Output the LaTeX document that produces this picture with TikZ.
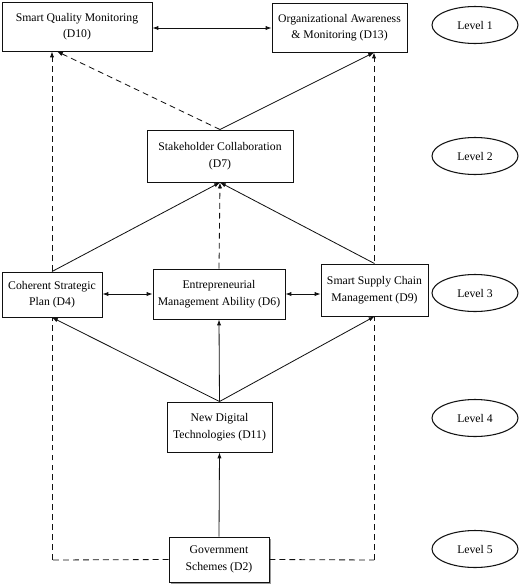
\documentclass[tikz,border=0pt]{standalone}
\usepackage{fontspec}
\setmainfont{Liberation Serif}
\usepackage{tikz}
\usetikzlibrary{arrows.meta,positioning,shapes.geometric,shadows}
\definecolor{ink}{HTML}{111111}
\definecolor{shadowgray}{HTML}{9A9A9A}
\tikzset{
  dimbox/.style={draw=ink,fill=white,line width=0.8pt,
                 align=center,inner sep=2pt,
                 font=\fontsize{10}{14}\selectfont},
  levelnode/.style={draw=ink,fill=white,ellipse,line width=0.9pt,
                    minimum width=2.58cm,minimum height=1.11cm,
                    inner sep=0pt,font=\fontsize{10}{12}\selectfont},
  solidarr/.style={-{Latex[length=5pt,width=3.6pt]},line width=0.7pt,color=ink},
  biarr/.style={{Latex[length=5pt,width=3.6pt]}-{Latex[length=5pt,width=3.6pt]},line width=0.7pt,color=ink},
  dasharr/.style={-{Latex[length=5pt,width=3.6pt]},line width=0.7pt,color=ink,
                  dash pattern=on 5pt off 3.5pt},
  dashline/.style={line width=0.7pt,color=ink,dash pattern=on 5pt off 3.5pt}
}

\begin{document}
\begin{tikzpicture}[x=0.03cm,y=-0.03cm,>=Latex]
  \useasboundingbox (0,0) rectangle (520,586);
  \coordinate (lft) at (52,560);
  \coordinate (rgt) at (374,560);
  \node[dimbox,minimum width=4.5cm,minimum height=1.47cm] (D10) at (77,26.5)
    {Smart Quality Monitoring\\(D10)};
  \node[dimbox,minimum width=4.05cm,minimum height=1.47cm] (D13) at (339.5,27.5)
    {Organizational Awareness\\\& Monitoring (D13)};
  \node[dimbox,minimum width=4.38cm,minimum height=1.56cm] (D7) at (220,156)
    {Stakeholder Collaboration\\(D7)};
  \node[dimbox,minimum width=3.15cm,minimum height=1.5cm] (D11) at (219.5,427)
    {New Digital\\Technologies (D11)};
  \node[dimbox,minimum width=3cm,minimum height=1.35cm,
        drop shadow={shadow xshift=1.6pt,shadow yshift=-1.6pt,fill=shadowgray,opacity=1}] (D2) at (219,559.5)
    {Government\\Schemes (D2)};
  \draw[dashline] (D2.west) -- (lft);
  \draw[dasharr] (lft) -- (lft |- D10.south);
  \draw[dashline] (D2.east) -- (rgt);
  \draw[dasharr] (rgt) -- (rgt |- D13.south);
  \node[dimbox,minimum width=3cm,minimum height=1.35cm] (D4) at (52,294.5)
    {Coherent Strategic\\Plan (D4)};
  \node[dimbox,minimum width=3.96cm,minimum height=1.5cm] (D6) at (219,294)
    {Entrepreneurial\\Management Ability (D6)};
  \node[dimbox,minimum width=3.21cm,minimum height=1.56cm] (D9) at (374.5,290)
    {Smart Supply Chain\\Management (D9)};
  \node[levelnode] (L1) at (475,25) {Level 1};
  \node[levelnode] (L2) at (475,156) {Level 2};
  \node[levelnode] (L3) at (475,293) {Level 3};
  \node[levelnode] (L4) at (475,418) {Level 4};
  \node[levelnode] (L5) at (475,549) {Level 5};
  \draw[biarr] (D10.east |- 0,28) -- (D13.west |- 0,28);
  \draw[dasharr] (D7.north) -- ([xshift=0.15cm]D10.south -| lft);
  \draw[solidarr] (D7.north) -- (rgt |- D13.south);
  \draw[solidarr] (D4.north) -- (D7.south);
  \draw[dasharr] (D6.north) -- (D7.south);
  \draw[solidarr] (D9.north) -- (D7.south);
  \draw[biarr] (D4.east |- D6.center) -- (D6.west);
  \draw[biarr] (D6.east) -- (D6.east -| D9.west);
  \draw[solidarr] (D11.north) -- (D4.south);
  \draw[solidarr] (D11.north) -- (D6.south);
  \draw[solidarr] (D11.north) -- (D9.south);
  \draw[solidarr] (D2.north) -- (D11.south);
\end{tikzpicture}
\end{document}
